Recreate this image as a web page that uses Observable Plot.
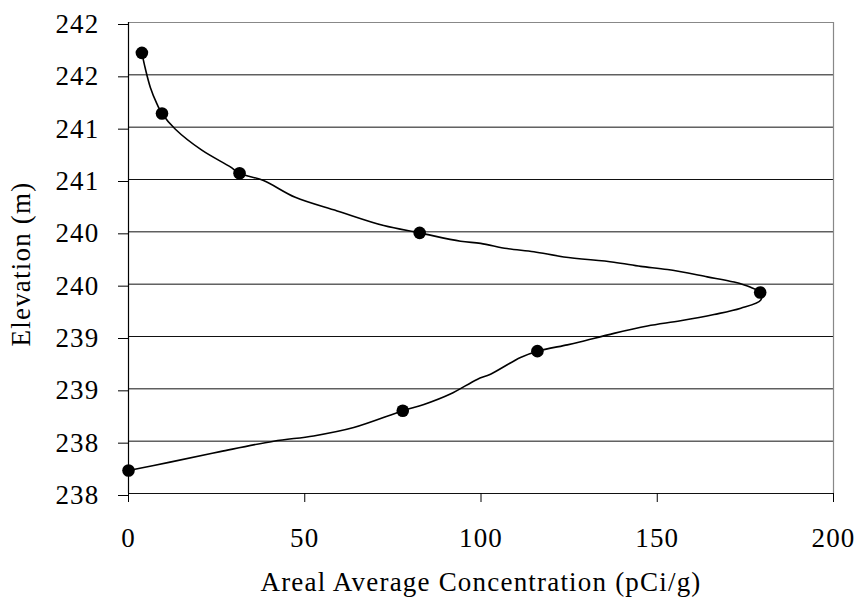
<!DOCTYPE html>
<html>
<head>
<meta charset="utf-8">
<script src="https://cdn.jsdelivr.net/npm/d3@7"></script>
<script src="https://cdn.jsdelivr.net/npm/@observablehq/plot@0.6"></script>
<style>
  html, body { margin: 0; padding: 0; background: #fff; }
  #chart svg { display: block; }
  #chart svg, #chart svg text, #chart svg g {
    font-family: "Liberation Serif", "Times New Roman", serif !important;
    font-size: 27px !important;
    letter-spacing: 1.2px;
  }
</style>
</head>
<body>
<div id="chart"></div>
<script>
// Measured samples (concentration pCi/g, elevation m)
const sampleConc = [3.8, 9.5, 31.5, 82.6, 179.2, 116.0, 77.8, 0];
const sampleElev = [241.96, 241.38, 240.81, 240.24, 239.67, 239.11, 238.54, 237.97];

// Fitted profile curve
const curveConc = [3.8, 4.7, 6.2, 8.1, 9.5, 13.3, 20.8, 28.9, 31.5, 38.3, 47.3, 59.2, 72.4, 82.6,
  94.2, 99.9, 107.4, 115.0, 123.5, 137.7, 145.3, 152.9, 164.2, 171.8, 176.5, 179.2,
  179.4, 173.7, 166.1, 156.6, 147.2, 137.7, 128.3, 124.5, 116.0, 111.2, 102.7, 98.9,
  91.3, 83.8, 77.8, 63.9, 52.5, 41.2, 26.0, 11.8, 0];
const curveElev = [241.96, 241.82, 241.63, 241.47, 241.38, 241.23, 241.03, 240.87, 240.81, 240.74,
  240.58, 240.45, 240.31, 240.24, 240.16, 240.14, 240.09, 240.06, 240.01, 239.96, 239.92,
  239.89, 239.82, 239.77, 239.72, 239.67, 239.60, 239.52, 239.46, 239.40, 239.35, 239.28,
  239.20, 239.17, 239.11, 239.05, 238.89, 238.84, 238.70, 238.60, 238.54, 238.38, 238.30,
  238.25, 238.15, 238.05, 237.97];

const xTicks = [0, 50, 100, 150, 200];
const yTicks = [237.75, 238.25, 238.75, 239.25, 239.75, 240.25, 240.75, 241.25, 241.75, 242.25];
const yTickLabels = ["238", "238", "239", "239", "240", "240", "241", "241", "242", "242"];
const xTitle = "Areal Average Concentration (pCi/g)";
const yTitle = "Elevation (m)";

const samples = sampleConc.map((c, i) => ({conc: c, elev: sampleElev[i]}));
const curve = curveConc.map((c, i) => ({conc: c, elev: curveElev[i]}));
const labelOf = new Map(yTicks.map((t, i) => [t, yTickLabels[i]]));

const chart = Plot.plot({
  width: 861,
  height: 598,
  marginLeft: 128,
  marginRight: 28,
  marginTop: 22,
  marginBottom: 105,
  style: {
    fontFamily: "Liberation Serif",
    fontSize: "27px",
    color: "#000",
    background: "#fff"
  },
  x: {domain: [0, 200]},
  y: {domain: [237.75, 242.25]},
  marks: [
    Plot.ruleY(yTicks.slice(0, -1), {stroke: "#111", strokeWidth: 1}),
    Plot.ruleY([yTicks[yTicks.length - 1]], {stroke: "#888", strokeWidth: 1.2}),
    Plot.ruleX([200], {stroke: "#888", strokeWidth: 1.2}),
    Plot.axisY({
      ticks: yTicks,
      tickFormat: (d) => labelOf.get(d),
      tickSize: 10,
      tickPadding: 19,
      stroke: "#000",
      label: null,
      dy: 2
    }),
    Plot.axisX({
      ticks: xTicks,
      tickSize: 9,
      tickPadding: 25,
      stroke: "#000",
      label: null
    }),
    Plot.ruleX([0], {stroke: "#000", strokeWidth: 1.2}),
    Plot.line(curve, {x: "conc", y: "elev", curve: "catmull-rom", stroke: "#000", strokeWidth: 1.6}),
    Plot.dot(samples, {x: "conc", y: "elev", r: 6.3, fill: "#000", stroke: "none"}),
    Plot.text([xTitle], {frameAnchor: "bottom", lineAnchor: "middle", textAnchor: "middle", dy: 89, text: (d) => d, fill: "#000"}),
    Plot.text([yTitle], {frameAnchor: "left", lineAnchor: "middle", textAnchor: "middle", dx: -107, dy: 6, rotate: -90, text: (d) => d, fill: "#000"})
  ]
});
document.getElementById("chart").appendChild(chart);
</script>
</body>
</html>
